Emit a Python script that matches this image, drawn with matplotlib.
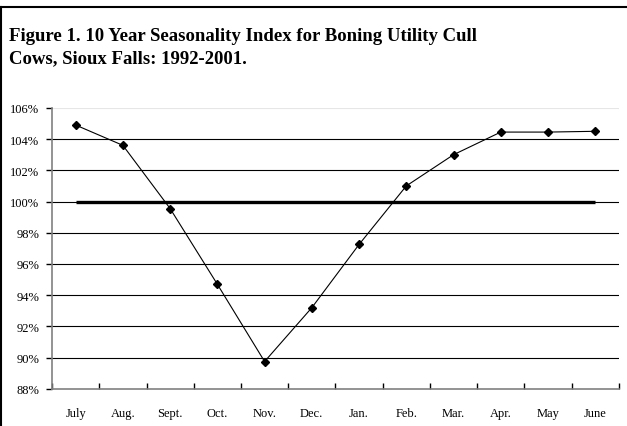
import matplotlib.pyplot as plt
import numpy as np
from matplotlib.lines import Line2D
from matplotlib.ticker import FuncFormatter

months = ['July', 'Aug.', 'Sept.', 'Oct.', 'Nov.', 'Dec.', 'Jan.', 'Feb.',
          'Mar.', 'Apr.', 'May', 'June']
index = [104.9, 103.6, 99.55, 94.7, 89.75, 93.2, 97.25, 101.0, 103.0, 104.45,
         104.45, 104.5]
base = [100.0] * len(months)
yticks = [88, 90, 92, 94, 96, 98, 100, 102, 104, 106]

plt.rcParams['font.family'] = ['Liberation Serif', 'DejaVu Serif']

fig = plt.figure(figsize=(6.27, 4.27), dpi=100)
ax = fig.add_axes([0.083, 0.087, 0.904, 0.658])

x = np.arange(len(months))
ax.set_xlim(-0.5, len(months) - 0.5)
ax.set_ylim(88, 106)

# horizontal gridlines
for y in yticks[1:]:
    if y == 106:
        ax.axhline(y, color='#e6e6e6', lw=0.8, zorder=1)
    else:
        ax.axhline(y, color='black', lw=0.8, zorder=1)

ax.plot(x, base, color='black', lw=2.4, solid_capstyle='butt', zorder=2)
ax.plot(x, index, color='black', lw=0.8, marker='D', markersize=4.3, zorder=3)

for s in ['top', 'right']:
    ax.spines[s].set_visible(False)
for s in ['left', 'bottom']:
    ax.spines[s].set_color('#808080')
    ax.spines[s].set_linewidth(1.2)

ax.set_yticks(yticks)
ax.yaxis.set_major_formatter(FuncFormatter(lambda v, p: '%d%%' % v))
ax.tick_params(axis='y', direction='out', length=4, width=1, color='black',
               labelsize=9, pad=5)

ax.set_xticks(x)
ax.set_xticklabels(months)
ax.set_xticks(np.arange(-0.5, len(months)), minor=True)
ax.tick_params(axis='x', which='major', length=0, labelsize=9, pad=13)
ax.tick_params(axis='x', which='minor', direction='in', length=4, width=1,
               color='black')

fig.text(0.014, 0.905, 'Figure 1. 10 Year Seasonality Index for Boning Utility Cull',
         fontsize=13.5, fontweight='bold', ha='left', va='baseline')
fig.text(0.014, 0.852, 'Cows, Sioux Falls: 1992-2001.',
         fontsize=13.5, fontweight='bold', ha='left', va='baseline')

# frame lines on top and left of the figure
fig.add_artist(Line2D([0, 1], [0.982, 0.982], transform=fig.transFigure,
                      color='black', lw=1.5))
fig.add_artist(Line2D([0.002, 0.002], [0, 0.982], transform=fig.transFigure,
                      color='black', lw=1.5))

fig.savefig('out.png', dpi=100)
plt.close()
